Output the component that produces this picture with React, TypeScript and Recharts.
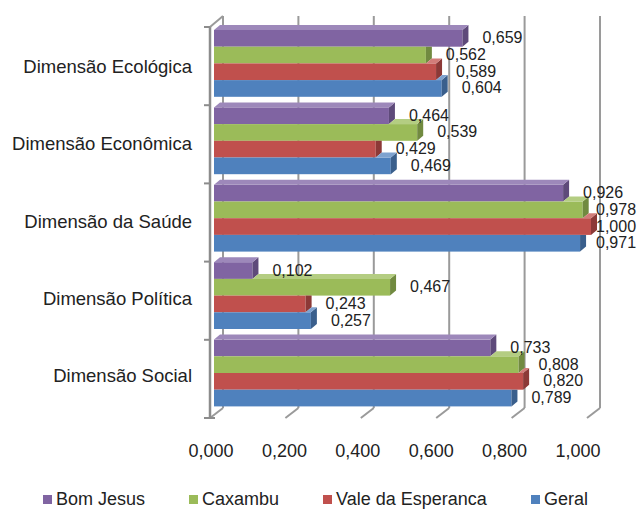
import { BarChart, Bar, XAxis, YAxis, CartesianGrid, Legend, LabelList } from "recharts"

const categories = [
  "Dimensão Ecológica",
  "Dimensão Econômica",
  "Dimensão da Saúde",
  "Dimensão Política",
  "Dimensão Social",
]
const bomJesus = [0.659, 0.464, 0.926, 0.102, 0.733]
const caxambu = [0.562, 0.539, 0.978, 0.467, 0.808]
const valeEsperanca = [0.589, 0.429, 1.0, 0.243, 0.82]
const geral = [0.604, 0.469, 0.971, 0.257, 0.789]
const xTicks = [0, 0.2, 0.4, 0.6, 0.8, 1]

const series = [
  { key: "bomJesus", name: "Bom Jesus", front: "#8064A2", side: "#5E4A7A", top: "#9D88BA" },
  { key: "caxambu", name: "Caxambu", front: "#9BBB59", side: "#718A40", top: "#B4CD82" },
  { key: "valeEsperanca", name: "Vale da Esperanca", front: "#C0504D", side: "#8C3937", top: "#D27C79" },
  { key: "geral", name: "Geral", front: "#4F81BD", side: "#3A5F8C", top: "#7EA2CF" },
]

const data = categories.map((name, i) => ({
  name,
  bomJesus: bomJesus[i],
  caxambu: caxambu[i],
  valeEsperanca: valeEsperanca[i],
  geral: geral[i],
}))

const FONT = "'Liberation Sans', Arial, sans-serif"
const TEXT = "#222"
const GRID = "#9a9a9a"
const fmt = (v: number) => v.toFixed(3).replace(".", ",")

// 3d depth of the bars and of the walls
const BAR_DX = 6
const BAR_DY = 5
const WALL_DX = 9

function make3dBar(si: number) {
  return (props: any) => {
    const { x, y, width: w, height: h, payload } = props
    const s = series[si]
    const above = si > 0 ? series[si - 1] : null
    const v = payload[s.key]
    const wu = above && v > 0 ? (w * payload[above.key]) / v : 0
    const side =
      wu <= w
        ? `${x + w},${y} ${x + w + BAR_DX},${y - BAR_DY} ${x + w + BAR_DX},${y + h - BAR_DY} ${x + w},${y + h}`
        : `${x + w},${y} ${x + w + BAR_DX},${y} ${x + w + BAR_DX},${y + h - BAR_DY} ${x + w},${y + h}`
    return (
      <g>
        <rect x={x} y={y} width={w} height={h} fill={s.front} />
        <polygon points={side} fill={s.side} />
        {wu < w && (
          <polygon
            points={`${x + wu},${y} ${x + wu + BAR_DX},${y - BAR_DY} ${x + w + BAR_DX},${y - BAR_DY} ${x + w},${y}`}
            fill={s.top}
          />
        )}
      </g>
    )
  }
}

const renderValue = (props: any) => {
  const { x, y, width, height, value } = props
  const lx = Math.min(x + width + 20, 596)
  return (
    <text x={lx} y={y + height / 2} dy={5} fontSize={16} fontFamily={FONT} fill={TEXT}>
      {fmt(value)}
    </text>
  )
}

const CategoryTick = (props: any) => {
  const { y, payload } = props
  return (
    <text x={192} y={y} dy={9} textAnchor="end" fontSize={18.5} fontFamily={FONT} fill={TEXT}>
      {payload.value}
    </text>
  )
}

const ValueTick = (props: any) => {
  const { x, payload } = props
  return (
    <text x={x - 3 - 10 * payload.value} y={457} textAnchor="middle" fontSize={18} fontFamily={FONT} fill={TEXT}>
      {fmt(payload.value)}
    </text>
  )
}

// back wall lines, floor edges and the left wall
const GridLine = (props: any) => {
  const { x1, y1, y2, index } = props
  const front = x1 - 4
  const back = x1 + WALL_DX
  const bottom = y2 + 6
  const parts = [
    <line key="b" x1={back} y1={y1 - 9} x2={back} y2={y2 - 4} stroke={GRID} strokeWidth={2} />,
    <line key="f" x1={front} y1={bottom} x2={back} y2={y2 - 4} stroke={GRID} strokeWidth={2} />,
  ]
  if (index === 0) {
    const top = y1 + 2
    const step = (bottom - top) / categories.length
    parts.push(
      <line key="l" x1={front} y1={top} x2={front} y2={bottom} stroke="#8c8c8c" strokeWidth={2.5} />,
      <line key="t" x1={front} y1={top} x2={back} y2={y1 - 9} stroke={GRID} strokeWidth={2} />,
    )
    for (let k = 0; k <= categories.length; k++) {
      parts.push(
        <line key={`k${k}`} x1={front - 6} y1={top + k * step} x2={front + (k === categories.length ? 5 : 0)} y2={top + k * step} stroke="#8c8c8c" strokeWidth={2} />,
      )
    }
  }
  return <g key={`v-${index}`}>{parts}</g>
}

const LegendContent = () => (
  <div style={{ display: "flex", alignItems: "center", gap: 44, paddingLeft: 43, height: 18, fontFamily: FONT, fontSize: 18, lineHeight: "18px", color: TEXT }}>
    {series.map((s) => (
      <div key={s.key} style={{ display: "flex", alignItems: "center" }}>
        <span style={{ display: "inline-block", width: 9, height: 9, background: s.front, marginRight: 4 }} />
        <span style={{ whiteSpace: "nowrap" }}>{s.name}</span>
      </div>
    ))}
  </div>
)

export default function App() {
  return (
    <div style={{ width: 638, height: 510, background: "#fff" }}>
      <style>{"body{margin:0}"}</style>
      <BarChart
        width={638}
        height={510}
        data={data}
        layout="vertical"
        margin={{ top: 25, right: 47, bottom: 40, left: 0 }}
        barGap={0}
        barSize={16.7}
      >
        <CartesianGrid horizontal={false} vertical={GridLine} />
        <XAxis
          type="number"
          domain={[0, 1]}
          ticks={xTicks}
          axisLine={false}
          tickLine={false}
          height={40}
          tick={ValueTick}
        />
        <YAxis
          type="category"
          dataKey="name"
          width={214}
          axisLine={false}
          tickLine={false}
          tick={CategoryTick}
        />
        <Legend
          content={LegendContent}
          verticalAlign="bottom"
          wrapperStyle={{ position: "absolute", left: 0, top: 490, width: 638, height: 18 }}
        />
        {series.map((s, i) => (
          <Bar key={s.key} dataKey={s.key} name={s.name} fill={s.front} shape={make3dBar(i)} isAnimationActive={false}>
            <LabelList dataKey={s.key} content={renderValue} />
          </Bar>
        ))}
      </BarChart>
    </div>
  )
}
